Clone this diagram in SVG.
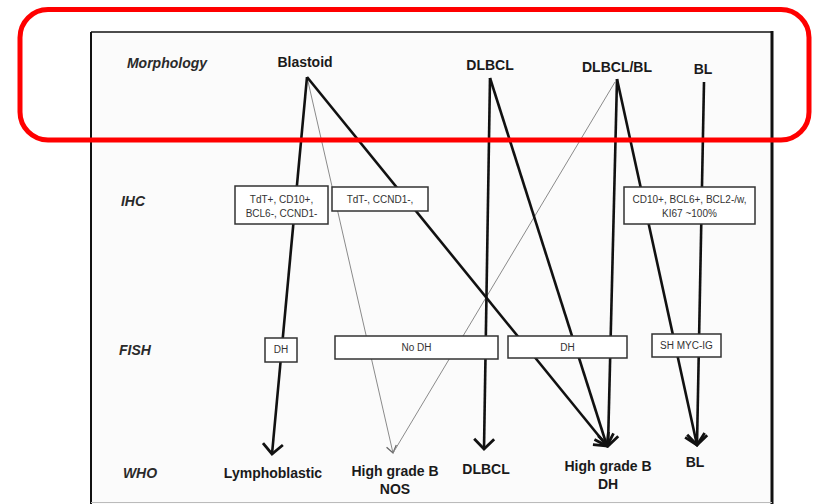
<svg xmlns="http://www.w3.org/2000/svg" width="819" height="504" viewBox="0 0 819 504">
<style>
.lbl{font-family:"Liberation Sans",Arial,sans-serif;font-weight:bold;font-size:14px;fill:#1a1a1a;text-anchor:middle}
.row{font-family:"Liberation Sans",Arial,sans-serif;font-weight:bold;font-style:italic;font-size:14px;fill:#2a2a2a;text-anchor:middle}
.bt{font-family:"Liberation Sans",Arial,sans-serif;font-size:10px;fill:#333;text-anchor:middle}
.box{fill:#fff;stroke:#333;stroke-width:1.5}
.k{stroke:#111;stroke-width:2.6;fill:none}
.t{stroke:#8a8a8a;stroke-width:1;fill:none}
</style>
<defs>
<marker id="ah" markerUnits="userSpaceOnUse" markerWidth="30" markerHeight="30" viewBox="-15 -15 30 30" refX="0" refY="0" orient="auto" overflow="visible">
<path d="M-10,-10 L0,0 L-10,10" fill="none" stroke="#111" stroke-width="2.8" stroke-linejoin="miter"/>
</marker>
<marker id="at" markerUnits="userSpaceOnUse" markerWidth="20" markerHeight="20" viewBox="-10 -10 20 20" refX="0" refY="0" orient="auto" overflow="visible">
<path d="M-7,-5 L0,0 L-7,5" fill="none" stroke="#666" stroke-width="1.3"/>
</marker>
</defs>
<rect x="0" y="0" width="819" height="504" fill="#fff"/>
<rect x="91" y="32" width="681" height="472" fill="#fbfbfb"/>
<g id="frame" fill="none">
<line x1="91" y1="32" x2="772" y2="32" stroke="#111" stroke-width="1.6"/>
<line x1="91" y1="32" x2="91" y2="504" stroke="#111" stroke-width="2"/>
<line x1="772" y1="31" x2="772" y2="504" stroke="#111" stroke-width="3"/>
<line x1="91" y1="502.5" x2="772" y2="502.5" stroke="#bbb" stroke-width="1"/>
</g>
<g id="row-labels">
<text class="row" x="167" y="68">Morphology</text>
<text class="row" x="133" y="206">IHC</text>
<text class="row" x="135" y="355">FISH</text>
<text class="row" x="140" y="478">WHO</text>
</g>
<g id="connectors">
<path class="t" d="M307,77 L393,453" marker-end="url(#at)"/>
<path class="t" d="M615,82 L393,453"/>
<path class="k" d="M307,77 L272,454" marker-end="url(#ah)"/>
<path class="k" d="M307,77 L607,446" marker-end="url(#ah)"/>
<path class="k" d="M490,78 L484,449" marker-end="url(#ah)"/>
<path class="k" d="M490,78 L607,446" marker-end="url(#ah)"/>
<path class="k" d="M617,79 L608,446" marker-end="url(#ah)"/>
<path class="k" d="M617,79 L697,445" marker-end="url(#ah)"/>
<path class="k" d="M704,82 L697,445" marker-end="url(#ah)"/>
</g>
<g id="m-blastoid"><text class="lbl" x="305" y="67">Blastoid</text></g>
<g id="m-dlbcl"><text class="lbl" x="490" y="70">DLBCL</text></g>
<g id="m-dlbclbl"><text class="lbl" x="617" y="72">DLBCL/BL</text></g>
<g id="m-bl"><text class="lbl" x="703" y="74">BL</text></g>
<g id="ihc-1"><rect class="box" x="235" y="186" width="93" height="38"/>
<text class="bt" x="281.5" y="202.5">TdT+, CD10+,</text>
<text class="bt" x="281.5" y="216.5">BCL6-, CCND1-</text></g>
<g id="ihc-2"><rect class="box" x="332" y="187" width="96" height="24"/>
<text class="bt" x="380" y="202.5">TdT-, CCND1-,</text></g>
<g id="ihc-3"><rect class="box" x="624" y="187" width="131" height="37"/>
<text class="bt" x="689.5" y="202.5">CD10+, BCL6+, BCL2-/w,</text>
<text class="bt" x="689.5" y="216.5">KI67 ~100%</text></g>
<g id="fish-dh1"><rect class="box" x="265" y="338" width="32" height="24"/>
<text class="bt" x="281" y="353">DH</text></g>
<g id="fish-nodh"><rect class="box" x="335" y="336" width="163" height="23"/>
<text class="bt" x="416.5" y="351">No DH</text></g>
<g id="fish-dh2"><rect class="box" x="508" y="336" width="119" height="22"/>
<text class="bt" x="567.5" y="350.5">DH</text></g>
<g id="fish-sh"><rect class="box" x="652" y="334" width="69" height="23"/>
<text class="bt" x="686.5" y="349">SH MYC-IG</text></g>
<g id="who-lympho"><text class="lbl" x="273" y="478">Lymphoblastic</text></g>
<g id="who-nos"><text class="lbl" x="395" y="476">High grade B</text><text class="lbl" x="395" y="494">NOS</text></g>
<g id="who-dlbcl"><text class="lbl" x="486" y="474">DLBCL</text></g>
<g id="who-dh"><text class="lbl" x="608" y="471">High grade B</text><text class="lbl" x="608" y="489">DH</text></g>
<g id="who-bl"><text class="lbl" x="695" y="467">BL</text></g>
<rect id="highlight" x="20" y="9.5" width="789" height="130.5" rx="28" ry="28" fill="none" stroke="#f00" stroke-width="5"/>
</svg>
